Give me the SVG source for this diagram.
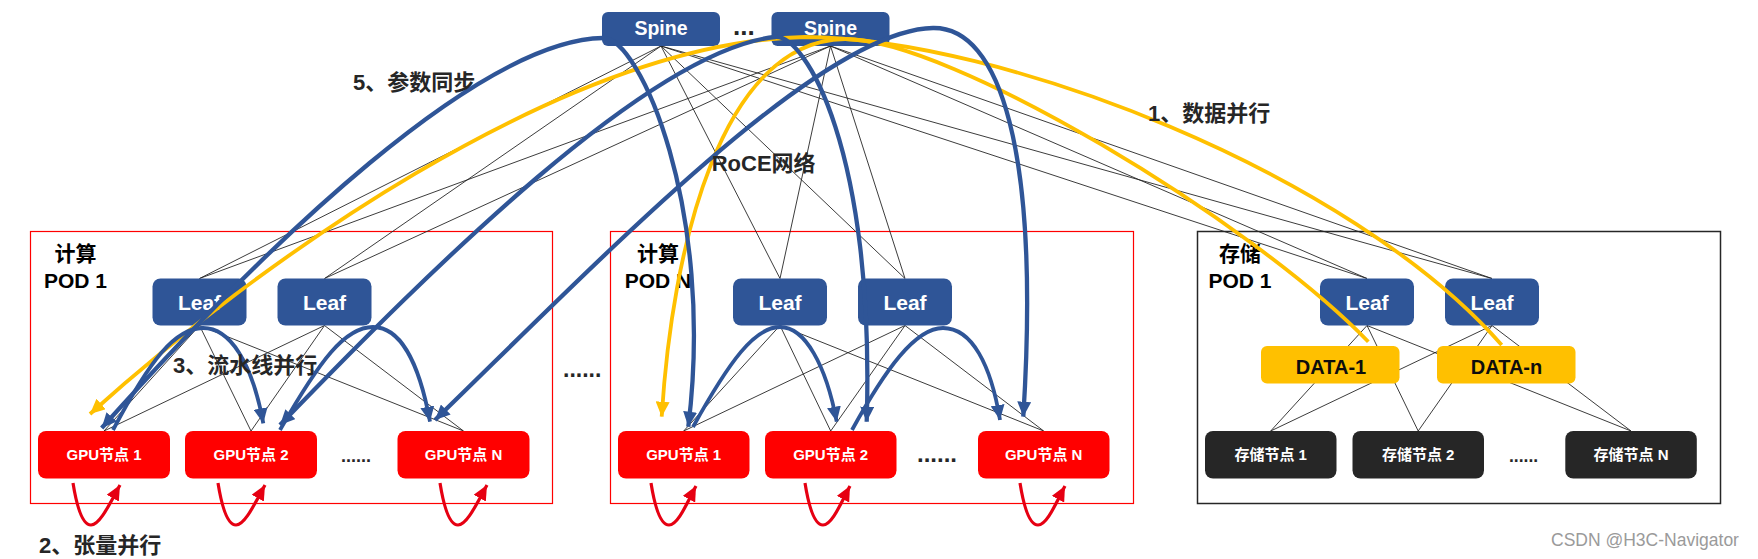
<svg xmlns="http://www.w3.org/2000/svg" width="1758" height="559" viewBox="0 0 1758 559">
<style>
.t{font-family:"Liberation Sans","Noto Sans CJK SC",sans-serif;font-weight:bold}
.c{text-anchor:middle}
.w{fill:#ffffff}
.blue{fill:#2F5597}
.gpu{fill:#FF0000}
.sto{fill:#262626}
.data{fill:#FFC000}
.thin{stroke:#262626;stroke-width:0.9;fill:none}
.bc{stroke:#2F5597;stroke-width:4.3;fill:none;marker-start:url(#ab);marker-end:url(#ab)}
.ba{stroke:#2F5597;stroke-width:3.8;fill:none;marker-end:url(#ab)}
.yc{stroke:#FFC000;stroke-width:3.8;fill:none;marker-end:url(#ay)}
.rc{stroke:#E60012;stroke-width:3.2;fill:none;marker-end:url(#ar)}
.lab{font-size:22px;fill:#262626}
.pod{font-size:21px;fill:#000000}
.dots{fill:#262626}
</style>
<defs>
<marker id="ab" markerUnits="userSpaceOnUse" markerWidth="15" markerHeight="14" viewBox="0 0 15 14" refX="15" refY="7" orient="auto-start-reverse"><path d="M0,0 L15,7 L0,14 z" fill="#2F5597"/></marker>
<marker id="ay" markerUnits="userSpaceOnUse" markerWidth="15" markerHeight="14" viewBox="0 0 15 14" refX="15" refY="7" orient="auto-start-reverse"><path d="M0,0 L15,7 L0,14 z" fill="#FFC000"/></marker>
<marker id="ar" markerUnits="userSpaceOnUse" markerWidth="15" markerHeight="14" viewBox="0 0 15 14" refX="15" refY="7" orient="auto"><path d="M0,0 L15,7 L0,14 z" fill="#E60012"/></marker>
</defs>
<rect width="1758" height="559" fill="#ffffff"/>

<g id="pod1-compute">
<rect x="30.5" y="231.5" width="522" height="272" fill="none" stroke="#FF0000" stroke-width="1.2"/>
<text class="t pod c" x="75.5" y="261">计算</text>
<text class="t pod c" x="75.5" y="288">POD 1</text>
</g>
<g id="podN-compute">
<rect x="610.5" y="231.5" width="523" height="272" fill="none" stroke="#FF0000" stroke-width="1.2"/>
<text class="t pod c" x="658" y="261">计算</text>
<text class="t pod c" x="658" y="288">POD N</text>
</g>
<g id="pod1-storage">
<rect x="1197.5" y="231.5" width="523" height="272" fill="none" stroke="#262626" stroke-width="1.5"/>
<text class="t pod c" x="1240" y="261">存储</text>
<text class="t pod c" x="1240" y="288">POD 1</text>
</g>

<g id="connectors">
<g id="thin-links">
<path class="thin" d="M661,46 L199.5,278.5 M661,46 L324.5,278.5 M661,46 L780,278.5 M661,46 L905,278.5 M661,46 L1367,278.5 M661,46 L1492,278.5"/>
<path class="thin" d="M830.5,46 L199.5,278.5 M830.5,46 L324.5,278.5 M830.5,46 L780,278.5 M830.5,46 L905,278.5 M830.5,46 L1367,278.5 M830.5,46 L1492,278.5"/>
<path class="thin" d="M199.5,325.5 L104,431 M199.5,325.5 L251,431 M199.5,325.5 L463.5,431 M324.5,325.5 L104,431 M324.5,325.5 L251,431 M324.5,325.5 L463.5,431"/>
<path class="thin" d="M780,325.5 L683.7,431 M780,325.5 L830.7,431 M780,325.5 L1043.7,431 M905,325.5 L683.7,431 M905,325.5 L830.7,431 M905,325.5 L1043.7,431"/>
<path class="thin" d="M1367,325.5 L1270.7,431 M1367,325.5 L1418.2,431 M1367,325.5 L1631,431 M1492,325.5 L1270.7,431 M1492,325.5 L1418.2,431 M1492,325.5 L1631,431"/>
</g>
</g>

<g id="spine-1"><rect class="blue" x="602" y="12" width="118" height="34" rx="6"/><text class="t w c" x="661" y="35" font-size="19.5">Spine</text></g>
<g id="spine-2"><rect class="blue" x="771.5" y="12" width="118" height="34" rx="6"/><text class="t w c" x="830.5" y="35" font-size="19.5">Spine</text></g>
<text class="t" x="733" y="35" font-size="26" fill="#262626">...</text>

<g id="leaf-p1-1"><rect class="blue" x="152.5" y="278.5" width="94" height="47" rx="8"/><text class="t w c" x="199.5" y="309.5" font-size="21">Leaf</text></g>
<g id="leaf-p1-2"><rect class="blue" x="277.5" y="278.5" width="94" height="47" rx="8"/><text class="t w c" x="324.5" y="309.5" font-size="21">Leaf</text></g>
<g id="leaf-pN-1"><rect class="blue" x="733" y="278.5" width="94" height="47" rx="8"/><text class="t w c" x="780" y="309.5" font-size="21">Leaf</text></g>
<g id="leaf-pN-2"><rect class="blue" x="858" y="278.5" width="94" height="47" rx="8"/><text class="t w c" x="905" y="309.5" font-size="21">Leaf</text></g>
<g id="leaf-s-1"><rect class="blue" x="1320" y="278.5" width="94" height="47" rx="8"/><text class="t w c" x="1367" y="309.5" font-size="21">Leaf</text></g>
<g id="leaf-s-2"><rect class="blue" x="1445" y="278.5" width="94" height="47" rx="8"/><text class="t w c" x="1492" y="309.5" font-size="21">Leaf</text></g>

<g id="gpu-p1-1"><rect class="gpu" x="38" y="431" width="132" height="47.5" rx="8"/><text class="t w c" x="104" y="460" font-size="15">GPU节点 1</text></g>
<g id="gpu-p1-2"><rect class="gpu" x="185" y="431" width="132" height="47.5" rx="8"/><text class="t w c" x="251" y="460" font-size="15">GPU节点 2</text></g>
<g id="gpu-p1-n"><rect class="gpu" x="397.5" y="431" width="132" height="47.5" rx="8"/><text class="t w c" x="463.5" y="460" font-size="15">GPU节点 N</text></g>
<g id="gpu-pN-1"><rect class="gpu" x="618" y="431" width="131.5" height="47.5" rx="8"/><text class="t w c" x="683.7" y="460" font-size="15">GPU节点 1</text></g>
<g id="gpu-pN-2"><rect class="gpu" x="765" y="431" width="131.5" height="47.5" rx="8"/><text class="t w c" x="830.7" y="460" font-size="15">GPU节点 2</text></g>
<g id="gpu-pN-n"><rect class="gpu" x="978" y="431" width="131.5" height="47.5" rx="8"/><text class="t w c" x="1043.7" y="460" font-size="15">GPU节点 N</text></g>

<g id="data-1"><rect class="data" x="1261" y="346" width="138.5" height="37.5" rx="6"/><text class="t c" x="1331" y="374" font-size="20" fill="#0d0d0d">DATA-1</text></g>
<g id="data-n"><rect class="data" x="1437" y="346" width="138.5" height="37.5" rx="6"/><text class="t c" x="1506.5" y="374" font-size="20" fill="#0d0d0d">DATA-n</text></g>

<g id="sto-1"><rect class="sto" x="1205" y="431" width="131.5" height="47.5" rx="8"/><text class="t w c" x="1270.7" y="460" font-size="15">存储节点 1</text></g>
<g id="sto-2"><rect class="sto" x="1352.5" y="431" width="131.5" height="47.5" rx="8"/><text class="t w c" x="1418.2" y="460" font-size="15">存储节点 2</text></g>
<g id="sto-n"><rect class="sto" x="1565.3" y="431" width="131.5" height="47.5" rx="8"/><text class="t w c" x="1631" y="460" font-size="15">存储节点 N</text></g>

<g id="flows">
<path class="yc" d="M1501.7,345 C1350,172 1000,38 805,37 C560,42 250,270 90,414"/>
<path class="yc" d="M1368.3,341.7 C1250,220 950,39 845,39 C720,41 672,250 661.7,416.7"/>
<path class="bc" d="M101.7,428 C270,240 480,40 603,38 C640,37 715,210 688.3,426.7"/>
<path class="bc" d="M280,425 C430,270 650,50 775,37 C805,34 875,150 866.7,421.7"/>
<path class="bc" d="M435,420 C600,260 820,30 933,28 C1000,27 1040,150 1023.3,416.7"/>
<path class="ba" d="M113,430 C150,360 175,328 203,328 C230,328 252,362 263.3,423.3"/>
<path class="ba" d="M280,430 C320,360 345,327 373,327 C400,327 419,362 430,421.7"/>
<path class="ba" d="M693,427 C730,360 755,327 780,327 C805,327 826,365 836.7,421.7"/>
<path class="ba" d="M852,430 C885,370 915,328 943,328 C972,328 991,365 1000,420"/>
<path class="rc" d="M73,483 C77,508 83,525 91,525 C100,525 110,503 120,485"/>
<path class="rc" d="M218,483 C222,508 228,525 236,525 C245,525 255,503 265,485"/>
<path class="rc" d="M440,483 C444,508 450,525 458,525 C467,525 477,503 487,485"/>
<path class="rc" d="M651,483 C655,508 661,525 669,525 C678,525 687,503 696,486"/>
<path class="rc" d="M805,483 C809,508 815,525 823,525 C832,525 841,503 850,486"/>
<path class="rc" d="M1020,483 C1024,508 1030,525 1038,525 C1047,525 1056,503 1065,486"/>
</g>

<text class="t dots" x="341" y="462" font-size="18">......</text>
<text class="t dots" x="563" y="377" font-size="23">......</text>
<text class="t dots" x="917" y="462" font-size="24">......</text>
<text class="t dots" x="1509" y="462" font-size="17.5">......</text>

<text class="t lab" x="353" y="90">5、参数同步</text>
<text class="t lab" x="711.7" y="171" fill="#000000">RoCE网络</text>
<text class="t lab" x="1148" y="121">1、数据并行</text>
<text class="t lab" x="173" y="373">3、流水线并行</text>
<text class="t lab" x="39" y="553">2、张量并行</text>
<text x="1551" y="546" font-family="Liberation Sans, sans-serif" font-size="17.5" fill="#9a9a9a">CSDN @H3C-Navigator</text>
</svg>
